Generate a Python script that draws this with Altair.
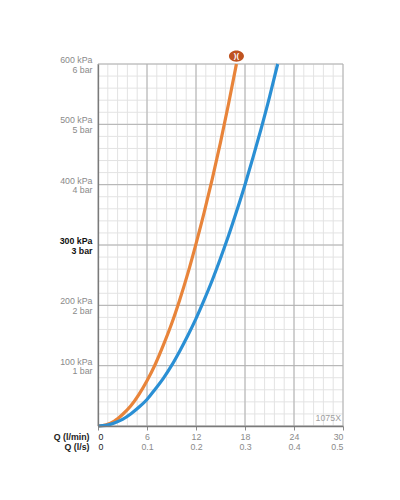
import altair as alt
import pandas as pd

# ---- data ----
q_orange = [0, 1, 2, 3, 4, 5, 6, 7, 8, 9, 10, 11, 12, 13, 14, 15, 16, 16.95]
p_orange = [0, 2, 8, 19, 33, 52, 75, 102, 134, 169, 209, 253, 302, 354, 410, 470, 535, 600]
q_blue = [0, 1, 2, 3, 4, 5, 6, 7, 8, 9, 10, 11, 12, 13, 14, 15, 16, 17, 18, 19, 20, 21, 22]
p_blue = [0, 1, 5, 11, 20, 31, 44, 61, 79, 100, 124, 150, 178, 209, 242, 278, 316, 357, 400, 446, 494, 545, 600]

x_ticks = [0, 6, 12, 18, 24, 30]
y_ticks = [100, 200, 300, 400, 500, 600]
x_major = [0, 6, 12, 18, 24, 30]
y_major = [0, 100, 200, 300, 400, 500, 600]
x_minor = [round(i * 1.2, 2) for i in range(26)]
y_minor = list(range(0, 601, 20))
model_label = ["1075X"]
marker_q = [16.95]
marker_p = [600]

FONT = "Liberation Sans"
ORANGE = "#e8843a"
BLUE = "#2a8fd4"

curves = pd.DataFrame({
    "Q": q_orange + q_blue,
    "p": p_orange + p_blue,
    "s": ["orange"] * len(q_orange) + ["blue"] * len(q_blue),
})

xs = alt.Scale(domain=[0, 30], nice=False, zero=True)
ys = alt.Scale(domain=[0, 600], nice=False, zero=True)

x_axis = alt.Axis(
    values=x_ticks,
    grid=False,
    domainColor="#7a7a7a",
    domainWidth=1.3,
    tickColor="#8a8a8a",
    tickSize=4,
    labelPadding=2,
    labelFont=FONT,
    labelFontSize=8.8,
    labelLineHeight=10,
    labelBaseline="top",
    labelColor={"condition": {"test": "datum.value == 0", "value": "#222222"}, "value": "#8a8a8a"},
    labelExpr="[format(datum.value, 'd'), format(datum.value / 60, '.1~f')]",
    title=["Q (l/min)", "Q (l/s)"],
    titleX=-9,
    titleY=6,
    titleAlign="right",
    titleBaseline="top",
    titleAngle=0,
    titleFont=FONT,
    titleFontSize=8.8,
    titleLineHeight=10,
    titleFontWeight="bold",
    titleColor="#222222",
    zindex=1,
)
y_axis = alt.Axis(
    values=y_ticks,
    grid=False,
    ticks=False,
    tickSize=0,
    domainColor="#7a7a7a",
    domainWidth=1.3,
    labelPadding=6,
    labelOffset=-4.5,
    labelFont=FONT,
    labelFontSize=8.8,
    labelLineHeight=9.5,
    labelAlign="right",
    labelBaseline="middle",
    labelColor={"condition": {"test": "datum.value == 300", "value": "#111111"}, "value": "#8a8a8a"},
    labelFontWeight={"condition": {"test": "datum.value == 300", "value": "bold"}, "value": "normal"},
    labelExpr="[datum.value + ' kPa', (datum.value / 100) + ' bar']",
    title=None,
    zindex=1,
)

X = alt.X("Q:Q", scale=xs, axis=x_axis)
Y = alt.Y("p:Q", scale=ys, axis=y_axis)

minor_v = alt.Chart(pd.DataFrame({"Q": x_minor})).mark_rule(color="#e3e3e3", strokeWidth=1).encode(x=X)
minor_h = alt.Chart(pd.DataFrame({"p": y_minor})).mark_rule(color="#e3e3e3", strokeWidth=1).encode(y=Y)
major_v = alt.Chart(pd.DataFrame({"Q": x_major})).mark_rule(color="#b0b0b0", strokeWidth=1).encode(x=X)
major_h = alt.Chart(pd.DataFrame({"p": y_major})).mark_rule(color="#b0b0b0", strokeWidth=1).encode(y=Y)

lines = alt.Chart(curves).mark_line(strokeWidth=3.2, interpolate="monotone").encode(
    x=X,
    y=Y,
    color=alt.Color("s:N", scale=alt.Scale(domain=["orange", "blue"], range=[ORANGE, BLUE]), legend=None),
)

mk = pd.DataFrame({"Q": marker_q, "p": marker_p})
marker = alt.Chart(mk).mark_point(
    shape="M -1 0 A 1 0.75 0 1 0 1 0 A 1 0.75 0 1 0 -1 0 Z",
    filled=True, opacity=1, size=225, color="#bf5320", yOffset=-8,
).encode(x=X, y=Y)
marker_txt = alt.Chart(mk.assign(t=[")("])).mark_text(
    color="white", fontSize=8, fontWeight="bold", font=FONT, baseline="middle", dy=-8,
).encode(x=X, y=Y, text="t:N")

lbl = alt.Chart(pd.DataFrame({"Q": [30], "p": [0], "t": model_label})).mark_text(
    align="right", baseline="bottom", dx=-2, dy=-3, fontSize=8.8, font=FONT, color="#a0a0a0",
).encode(x=X, y=Y, text="t:N")

chart = alt.layer(minor_v, minor_h, major_v, major_h, lines, marker, marker_txt, lbl).properties(
    width=245,
    height=362,
    autosize=alt.AutoSizeParams(type="none"),
    padding={"left": 90, "top": 56, "right": 40, "bottom": 50},
    background="white",
).configure_view(strokeWidth=0)

chart.save("out.html", embed_options={"renderer": "svg", "actions": False})
